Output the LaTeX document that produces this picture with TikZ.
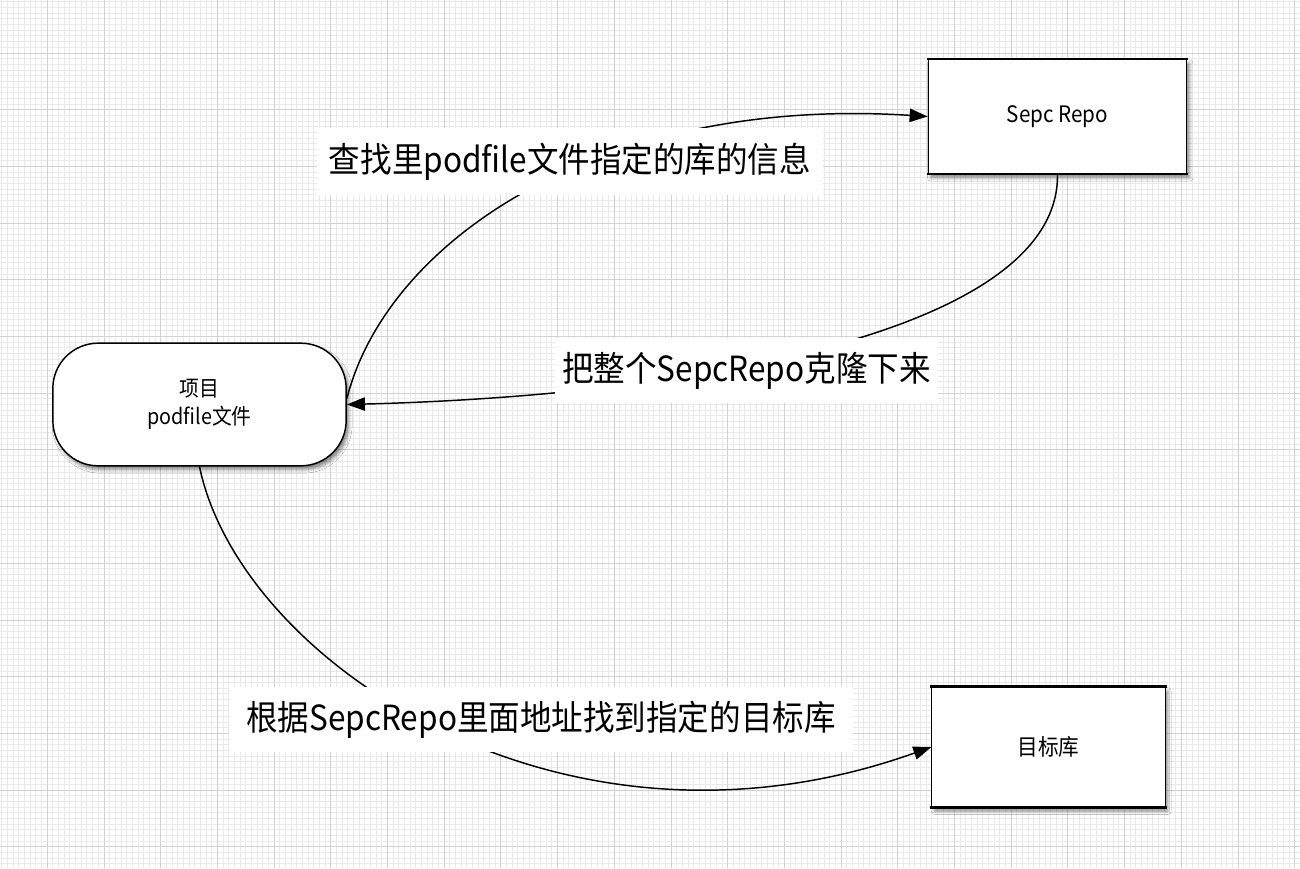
\documentclass[tikz,border=0pt]{standalone}
\usepackage{fontspec}
\setmainfont{Noto Sans CJK SC}[FakeStretch=0.91]
\usetikzlibrary{arrows.meta,shadows.blur,calc}
\definecolor{gridminor}{HTML}{E9E9E9}
\definecolor{gridmajor}{HTML}{D2D2D2}
\tikzset{
  boxnode/.style={draw=black, line width=0.75pt, fill=white, inner sep=0pt,
    blur shadow={shadow xshift=2pt, shadow yshift=-3pt, shadow blur radius=2.5pt, shadow opacity=45},
    font=\fontsize{17}{21}\selectfont, align=center},
  pillnode/.style={boxnode, rounded corners=34pt, line width=1.1pt,
    font=\fontsize{16.3}{21}\selectfont},
  edgelabel/.style={fill=white, inner sep=0pt, font=\fontsize{26}{30}\selectfont},
  conn/.style={line width=1.1pt, -{Triangle[length=13.5pt,width=10pt]}},
  thickedge/.style={line width=1.6pt, line cap=rect}
}
\begin{document}
\begin{tikzpicture}[x=0.75pt,y=-0.75pt]
\useasboundingbox (0,0) rectangle (1300,868);
\fill[white] (0,0) rectangle (1300,868);
% grid
\foreach \i in {0,...,229} \draw[gridminor, line width=0.75pt] ({1.94+\i*5.67},0) -- ({1.94+\i*5.67},868);
\foreach \j in {0,...,152} \draw[gridminor, line width=0.75pt] (0,{1.97+\j*5.67}) -- (1300,{1.97+\j*5.67});
\foreach \k in {-1,...,22} \draw[gridmajor, line width=0.75pt] ({47.3+\k*56.7},0) -- ({47.3+\k*56.7},868);
\foreach \k in {0,...,14} \draw[gridmajor, line width=0.75pt] (0,{53+\k*56.7}) -- (1300,{53+\k*56.7});

% nodes
\node[pillnode, minimum width=220pt, minimum height=92pt] (proj) at (199.5,404.5) {项目\\podfile文件};
\node[boxnode, minimum width=194pt, minimum height=86pt] (spec) at (1057.5,116.5) {Sepc Repo};
\node[boxnode, minimum width=175pt, minimum height=90pt] (target) at (1048.5,747) {目标库};
\draw[thickedge] (spec.north west) -- (spec.north east);
\draw[thickedge] (spec.south west) -- (spec.south east);
\draw[thickedge] (target.north west) -- (target.north east);
\draw[thickedge] (target.south west) -- (target.south east);

% connectors
\draw[conn] ($(proj.east)+(0,-6)$) .. controls +(40,-158) and +(-327,-21) .. (spec.west);
\draw[conn] (spec.south) .. controls +(2,156) and +(352,-9) .. (proj.east);
\draw[conn] (proj.south) .. controls +(40,194) and +(-370,132) .. (target.west);

% labels
\node[edgelabel, minimum width=379.5pt, minimum height=50pt] (l1) at (570,161.5) {查找里podfile文件指定的库的信息};
\node[edgelabel, minimum width=287pt, minimum height=49pt] (l2) at (746.5,370.5) {把整个SepcRepo克隆下来};
\node[edgelabel, minimum width=468pt, minimum height=49pt] (l3) at (541,719.5) {根据SepcRepo里面地址找到指定的目标库};
\end{tikzpicture}
\end{document}
